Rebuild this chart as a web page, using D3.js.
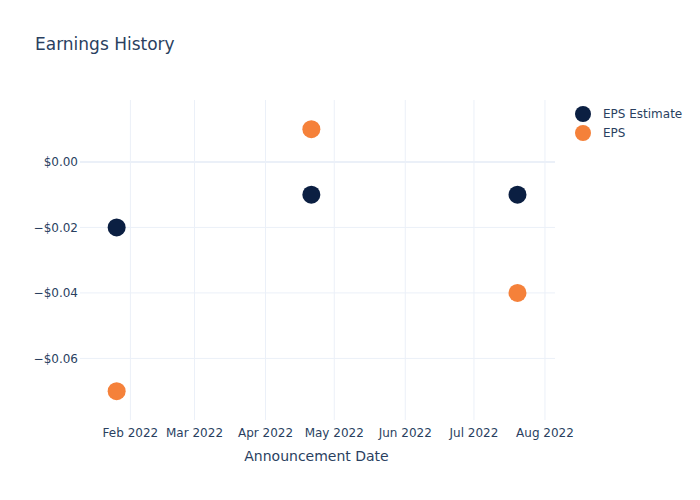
<!DOCTYPE html>
<html>
<head>
<meta charset="utf-8">
<script src="https://cdn.jsdelivr.net/npm/d3@7"></script>
<style>
  body { margin: 0; background: white; }
  svg text { font-family: "DejaVu Sans", Verdana, sans-serif; fill: #2a3f5f; }
</style>
</head>
<body>
<div id="chart"></div>
<script>
const dates = ["2022-01-26", "2022-04-21", "2022-07-20"];
const epsEstimate = [-0.02, -0.01, -0.01];
const epsActual = [-0.07, 0.01, -0.04];
const seriesNames = ["EPS Estimate", "EPS"];
const seriesColors = ["#0b1f42", "#f5813a"];
const yTicks = [0, -0.02, -0.04, -0.06];
const xTicks = ["2022-02-01", "2022-03-01", "2022-04-01", "2022-05-01", "2022-06-01", "2022-07-01", "2022-08-01"];

const width = 700, height = 500;
const margin = { top: 100, right: 147, bottom: 80, left: 80 };
const parse = d3.timeParse("%Y-%m-%d");

const svg = d3.select("#chart").append("svg")
  .attr("width", width)
  .attr("height", height);

const x = d3.scaleTime()
  .domain([parse("2022-01-10"), new Date(2022, 7, 4, 12)])
  .range([margin.left, width - margin.right]);

const y = d3.scaleLinear()
  .domain([-0.0788, 0.0189])
  .range([height - margin.bottom, margin.top]);

const fmt = d3.format("$.2f");

// grid
svg.append("g")
  .selectAll("line")
  .data(xTicks.map(parse))
  .join("line")
  .attr("x1", d => x(d)).attr("x2", d => x(d))
  .attr("y1", margin.top).attr("y2", height - margin.bottom)
  .attr("stroke", "#ebf0f8");

svg.append("g")
  .selectAll("line")
  .data(yTicks)
  .join("line")
  .attr("x1", margin.left).attr("x2", width - margin.right + 2)
  .attr("y1", d => y(d)).attr("y2", d => y(d))
  .attr("stroke", "#ebf0f8")
  .attr("stroke-width", d => d === 0 ? 2 : 1);

// tick labels
svg.append("g")
  .selectAll("text")
  .data(yTicks)
  .join("text")
  .attr("x", margin.left - 2)
  .attr("y", d => y(d))
  .attr("dy", "0.35em")
  .attr("text-anchor", "end")
  .style("font-size", "12px")
  .text(d => fmt(d));

svg.append("g")
  .selectAll("text")
  .data(xTicks.map(parse))
  .join("text")
  .attr("x", d => x(d))
  .attr("y", height - margin.bottom + 17)
  .attr("text-anchor", "middle")
  .style("font-size", "12px")
  .text(d => d3.timeFormat("%b %Y")(d));

// axis title
svg.append("text")
  .attr("x", (margin.left + width - margin.right) / 2)
  .attr("y", 461)
  .attr("text-anchor", "middle")
  .style("font-size", "14px")
  .text("Announcement Date");

// title
svg.append("text")
  .attr("x", 35)
  .attr("y", 50)
  .style("font-size", "17px")
  .text("Earnings History");

// points
const series = [epsEstimate, epsActual];
series.forEach((vals, i) => {
  svg.append("g")
    .selectAll("circle")
    .data(vals.map((v, j) => ({ date: parse(dates[j]), value: v })))
    .join("circle")
    .attr("cx", d => x(d.date))
    .attr("cy", d => y(d.value))
    .attr("r", 9)
    .attr("fill", seriesColors[i]);
});

// legend
const legend = svg.append("g");
seriesNames.forEach((name, i) => {
  legend.append("circle")
    .attr("cx", 583)
    .attr("cy", 114 + i * 19)
    .attr("r", 8)
    .attr("fill", seriesColors[i]);
  legend.append("text")
    .attr("x", 603)
    .attr("y", 114 + i * 19)
    .attr("dy", "0.35em")
    .style("font-size", "12px")
    .text(name);
});
</script>
</body>
</html>
